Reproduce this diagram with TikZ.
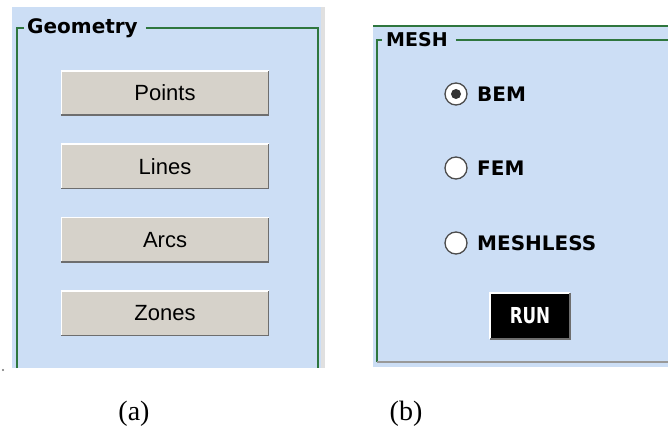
\documentclass[tikz,border=0pt]{standalone}
\usepackage{fontspec}
\setmainfont{Liberation Serif}
\newfontfamily\guifont{Liberation Sans}
\newfontfamily\dejavu{DejaVu Sans}
\usepackage{tikz}
\usetikzlibrary{positioning}

\definecolor{panelblue}{RGB}{204,222,245}
\definecolor{framegreen}{RGB}{46,118,62}
\definecolor{btnface}{RGB}{214,210,202}
\definecolor{btnshade}{RGB}{110,110,110}

\tikzset{
  guibtn/.style={fill=btnface, minimum width=207pt, minimum height=44pt, inner sep=0pt,
    font=\guifont\fontsize{22}{22}\selectfont},
  radiobtn/.style={circle, draw=black!70, line width=1.3pt, fill=white, minimum size=22pt, inner sep=0pt},
  radiolbl/.style={anchor=west, inner sep=0pt, font=\dejavu\bfseries\fontsize{20}{20}\selectfont},
  frametitle/.style={anchor=west, inner sep=0pt, font=\dejavu\bfseries\fontsize{#1}{#1}\selectfont},
  greenline/.style={framegreen, line width=2pt}
}

\begin{document}
\begin{tikzpicture}[x=1pt, y=-1pt]
\useasboundingbox (0,0) rectangle (668,427);

% (a) geometry panel
\fill[panelblue] (12,7) rectangle (321,368);
\fill[black!12] (321,7) rectangle (325,368);
\fill[black!55] (3,370) circle (1.2pt);
\node[frametitle=20] (geo) at (27,28) {Geometry};
\draw[greenline] (17,368) -- (17,28) -- (24,28);
\draw[greenline] ([xshift=8pt]geo.east |- 0,28) -- (318,28) -- (318,368);

\node[guibtn] (points) at (165,93) {Points};
\node[guibtn, below=29pt of points] (lines) {Lines};
\node[guibtn, below=29pt of lines] (arcs) {Arcs};
\node[guibtn, below=29pt of arcs] (zones) {Zones};
\foreach \b in {points,lines,arcs,zones}{
  \draw[white, line width=1.5pt] (\b.south west) -- (\b.north west) -- (\b.north east);
  \draw[btnshade, line width=1.5pt] (\b.south west) -- (\b.south east) -- (\b.north east);
}

% (b) mesh panel
\fill[panelblue] (373,26) rectangle (668,367);
\draw[greenline] (373,26) -- (668,26);
\node[frametitle=19] (mesh) at (386,40) {MESH};
\draw[greenline] (377,362) -- (377,40) -- (382,40);
\draw[greenline] ([xshift=8pt]mesh.east |- 0,40) -- (668,40);
\draw[black!40, line width=1.2pt] (377,362) -- (668,362);

\node[radiobtn] (bem) at (456,94) {};
\fill[black!80] (bem.center) circle (5pt);
\node[radiobtn] (fem) at (456,168) {};
\node[radiobtn] (meshless) at (456,243) {};
\node[radiolbl] (bemlbl) at (477,94) {BEM};
\node[radiolbl] (femlbl) at (477,168) {FEM};
\node[radiolbl] (mllbl) at (477,243) {MESHLESS};

\node[fill=black, text=white, minimum width=79pt, minimum height=45pt, inner sep=0pt,
  font=\dejavu\bfseries\fontsize{22}{22}\selectfont] (run) at (530,316) {\scalebox{0.76}[1]{RUN}};
\draw[white, line width=2pt] (run.south west) -- (run.north west) -- (run.north east);
\draw[btnshade, line width=2pt] (run.south west) -- (run.south east) -- (run.north east);

% captions
\node[font=\fontsize{28}{28}\selectfont] (capa) at (134,414) {(a)};
\node[font=\fontsize{28}{28}\selectfont] (capb) at (406,414) {(b)};
\end{tikzpicture}
\end{document}
